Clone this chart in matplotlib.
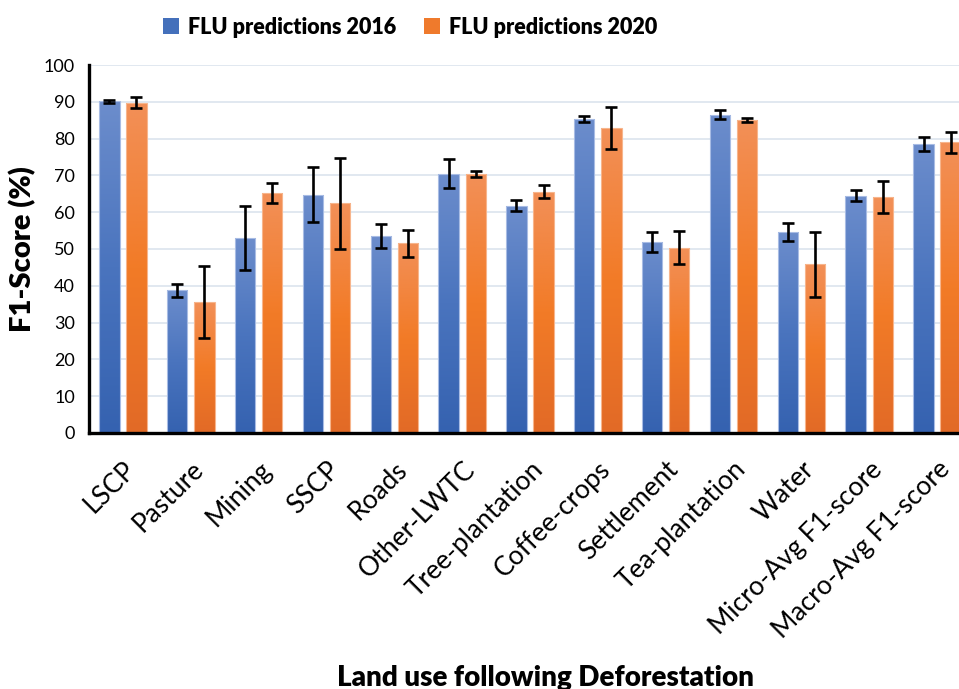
import numpy as np
import matplotlib
matplotlib.use("Agg")
import matplotlib.pyplot as plt
from matplotlib.colors import LinearSegmentedColormap
from matplotlib.patches import Patch

categories = ["LSCP", "Pasture", "Mining", "SSCP", "Roads", "Other-LWTC",
              "Tree-plantation", "Coffee-crops", "Settlement", "Tea-plantation",
              "Water", "Micro-Avg F1-score", "Macro-Avg F1-score"]
f1_2016 = [90.2, 38.8, 52.9, 64.8, 53.5, 70.5, 61.8, 85.4, 51.8, 86.5, 54.6, 64.5, 78.6]
err_2016 = [0.4, 1.8, 8.7, 7.4, 3.3, 4.0, 1.5, 0.8, 2.7, 1.2, 2.5, 1.4, 1.9]
f1_2020 = [89.8, 35.6, 65.2, 62.4, 51.5, 70.5, 65.6, 82.9, 50.4, 85.1, 45.8, 64.2, 79.0]
err_2020 = [1.6, 9.7, 2.6, 12.3, 3.6, 0.8, 1.8, 5.7, 4.6, 0.5, 8.8, 4.3, 2.9]

plt.rcParams['font.family'] = ['Lato', 'DejaVu Sans']

blue_cm = LinearSegmentedColormap.from_list("b", ["#3562B0", "#4A74BE", "#6C8DCC"])
orange_cm = LinearSegmentedColormap.from_list("o", ["#E26A26", "#F27B27", "#F29058"])

fig = plt.figure(figsize=(9.59, 6.89), dpi=100)
ax = fig.add_axes([89/959, 1-433/689, 882/959, 368/689])

x = np.arange(len(categories))
w = 0.3
off = 0.2

def grad_bars(vals, errs, pos, cmap, edge):
    bars = ax.bar(pos, vals, w, color='none', edgecolor=edge, linewidth=0.8, zorder=3)
    grad = np.linspace(0, 1, 256).reshape(-1, 1)
    for b in bars:
        x0 = b.get_x()
        h = b.get_height()
        im = ax.imshow(grad, extent=[x0, x0 + b.get_width(), 0, h], origin='lower',
                       aspect='auto', cmap=cmap, zorder=2.5)
        im.set_clip_path(b)
    ax.errorbar(pos, vals, yerr=errs, fmt='none', ecolor='black', elinewidth=1.9,
                capsize=4.5, capthick=1.9, zorder=4)

grad_bars(f1_2016, err_2016, x - off, blue_cm, "#A8BCE4")
grad_bars(f1_2020, err_2020, x + off, orange_cm, "#F7B58C")

ax.set_xlim(-0.5, len(categories) - 0.5)
ax.set_ylim(0, 100)
ax.set_yticks(np.arange(0, 101, 10))
ax.grid(axis='y', color='#D9E2EC', linewidth=1.1, zorder=0)
ax.set_axisbelow(True)

for s in ['top', 'right']:
    ax.spines[s].set_visible(False)
for s in ['left', 'bottom']:
    ax.spines[s].set_linewidth(2.4)
    ax.spines[s].set_color('black')
    ax.spines[s].set_zorder(5)

ax.set_xticks(x)
ax.set_xticklabels(categories, rotation=45, ha='right', rotation_mode='anchor', fontsize=19)
ax.tick_params(axis='x', length=0, pad=17)
ax.tick_params(axis='y', length=0, pad=10, labelsize=13)

ax.set_ylabel("F1-Score (%)", fontsize=21, fontweight='heavy')
ax.yaxis.set_label_coords(-53/882, 0.5)
ax.set_xlabel("Land use following Deforestation", fontsize=20, fontweight='heavy')
ax.xaxis.set_label_coords(0.518, -0.63)

handles = [Patch(facecolor='#4470BB', label='FLU predictions 2016'),
           Patch(facecolor='#EF7A2C', label='FLU predictions 2020')]
fig.legend(handles=handles, loc='center', bbox_to_anchor=(410/959, 1-27/689), ncol=2,
           frameon=False, prop={'weight': 'heavy', 'size': 15.5}, handlelength=0.75,
           handleheight=0.75, handletextpad=0.4, columnspacing=1.3)

fig.savefig("out.png", dpi=100)
